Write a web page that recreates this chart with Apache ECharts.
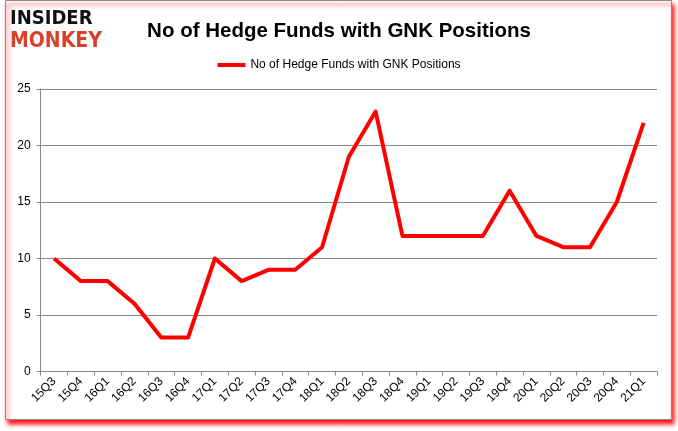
<!DOCTYPE html>
<html>
<head>
<meta charset="utf-8">
<script src="https://cdn.jsdelivr.net/npm/echarts@6/dist/echarts.min.js"></script>
<style>
html,body{margin:0;padding:0;background:#fff;}
#c{width:678px;height:431px;}
</style>
</head>
<body>
<div id="c"></div>
<script>
const categories = ['15Q3','15Q4','16Q1','16Q2','16Q3','16Q4','17Q1','17Q2','17Q3','17Q4','18Q1','18Q2','18Q3','18Q4','19Q1','19Q2','19Q3','19Q4','20Q1','20Q2','20Q3','20Q4','21Q1'];
const fundCounts = [10,8,8,6,3,3,10,8,9,9,11,19,23,12,12,12,12,16,12,11,11,15,22];
const seriesName = 'No of Hedge Funds with GNK Positions';
const titleText = 'No of Hedge Funds with GNK Positions';
const yTicks = [0,5,10,15,20,25];

const chart = echarts.init(document.getElementById('c'), null, {renderer:'canvas'});
const font = 'Liberation Sans, Arial, sans-serif';
chart.setOption({
  animation:false,
  backgroundColor:'#fff',
  graphic:[
    {type:'rect', z:-10, shape:{x:5.5,y:0.5,width:666,height:419},
     style:{fill:'#fff', stroke:'#8a8a8a', lineWidth:1, shadowColor:'rgba(255,0,0,0.9)', shadowBlur:4, shadowOffsetX:2, shadowOffsetY:4}},
    {type:'text', left:10, top:9, style:{text:'INSIDER', font:'900 20px "DejaVu Sans Condensed", sans-serif', fill:'#111', width:80}},
    {type:'text', left:10, top:31, style:{text:'MONKEY', font:'900 21px "DejaVu Sans Condensed", sans-serif', fill:'#d8402c'}}
  ],
  title:{text:titleText, left:'center', top:16,
    textStyle:{fontFamily:font, fontWeight:'bold', fontSize:20.5, color:'#000'}},
  legend:{top:54, left:'center', itemWidth:28, itemHeight:4, icon:'rect',
    textStyle:{fontFamily:font, fontSize:12, color:'#000'}, itemGap:4},
  grid:{left:40.7, right:21, top:89, bottom:59.5, containLabel:false},
  xAxis:{type:'category', data:categories, boundaryGap:true,
    axisLine:{lineStyle:{color:'#888', width:1}},
    axisTick:{show:true, length:4, lineStyle:{color:'#888'}, alignWithLabel:false},
    axisLabel:{rotate:45, fontFamily:font, fontSize:12, color:'#000', margin:8, interval:0}},
  yAxis:{type:'value', min:0, max:25, interval:5,
    axisLine:{show:true, lineStyle:{color:'#888'}},
    axisTick:{show:true, length:4, lineStyle:{color:'#888'}},
    splitLine:{lineStyle:{color:'#888', width:1}},
    axisLabel:{fontFamily:font, fontSize:12, color:'#000', margin:10}},
  series:[{name:seriesName, type:'line', data:fundCounts, showSymbol:false, symbol:'none',
    lineStyle:{color:'#ff0000', width:4, join:'round'}, itemStyle:{color:'#ff0000'}}]
});
</script>
</body>
</html>
